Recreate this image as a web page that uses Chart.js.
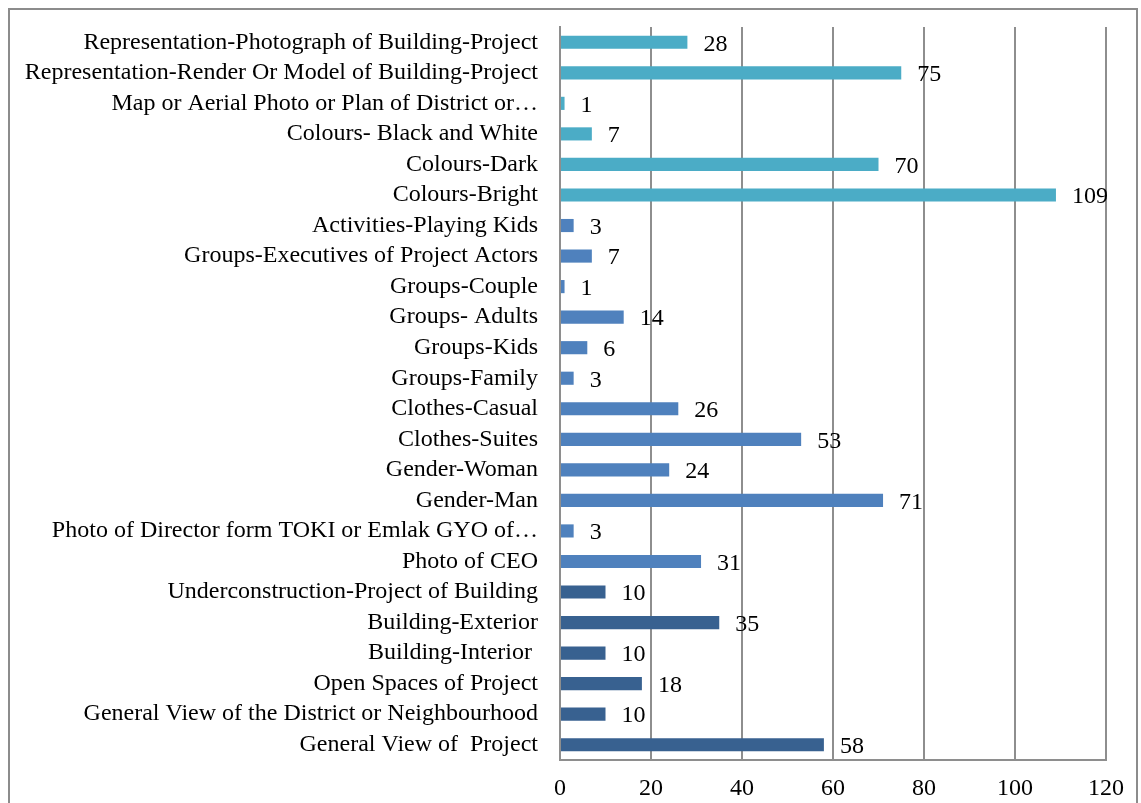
<!DOCTYPE html>
<html>
<head>
<meta charset="utf-8">
<script src="https://cdn.jsdelivr.net/npm/chart.js@4/dist/chart.umd.min.js"></script>
<style>
    html, body { margin: 0; padding: 0; background: #fff; }
    #wrap { position: relative; width: 1141px; height: 803px; overflow: hidden; }
    #frame { position: absolute; left: 8px; top: 8px; width: 1130px; height: 820px; border: 2px solid #8c8c8c; box-sizing: border-box; }
    canvas { position: absolute; left: 0; top: 0; }
</style>
</head>
<body>
<div id="wrap">
    <div id="frame"></div>
    <canvas id="chart" width="1141" height="803"></canvas>
</div>
<script>
// --- Data (top to bottom) ---
const categories = [
    'Representation-Photograph of Building-Project',
    'Representation-Render Or Model of Building-Project',
    'Map or Aerial Photo or Plan of District or…',
    'Colours- Black and White',
    'Colours-Dark',
    'Colours-Bright',
    'Activities-Playing Kids',
    'Groups-Executives of Project Actors',
    'Groups-Couple',
    'Groups- Adults',
    'Groups-Kids',
    'Groups-Family',
    'Clothes-Casual',
    'Clothes-Suites',
    'Gender-Woman',
    'Gender-Man',
    'Photo of Director form TOKI or Emlak GYO of…',
    'Photo of CEO',
    'Underconstruction-Project of Building',
    'Building-Exterior',
    'Building-Interior ',
    'Open Spaces of Project',
    'General View of the District or Neighbourhood',
    'General View of  Project'
];
const values = [28, 75, 1, 7, 70, 109, 3, 7, 1, 14, 6, 3, 26, 53, 24, 71, 3, 31, 10, 35, 10, 18, 10, 58];
const groups = [
    'representation', 'representation', 'representation', 'representation', 'representation', 'representation',
    'people', 'people', 'people', 'people', 'people', 'people', 'people', 'people', 'people', 'people', 'people', 'people',
    'building', 'building', 'building', 'building', 'building', 'building'
];
const xTicks = [0, 20, 40, 60, 80, 100, 120];

const groupColours = { representation: '#4BACC6', people: '#4F81BD', building: '#386190' };
const FONT = '"Liberation Serif", "Times New Roman", serif';
const GRID = '#8e8e8e';

// draws the value next to each bar
const valueLabels = {
    id: 'valueLabels',
    afterDatasetsDraw(chart) {
        const ctx = chart.ctx;
        const meta = chart.getDatasetMeta(0);
        ctx.save();
        ctx.font = '24px ' + FONT;
        ctx.fillStyle = '#000';
        ctx.textAlign = 'left';
        ctx.textBaseline = 'middle';
        meta.data.forEach((bar, i) => {
            ctx.fillText(String(values[i]), bar.x + 16, bar.y + 2);
        });
        ctx.restore();
    }
};

const noPad = s => { s.paddingTop = 0; s.paddingBottom = 0; s.paddingLeft = 0; s.paddingRight = 0; };

new Chart(document.getElementById('chart'), {
    type: 'bar',
    data: {
        labels: categories,
        datasets: [{
            data: values,
            backgroundColor: groups.map(g => groupColours[g]),
            barPercentage: 0.43,
            categoryPercentage: 1
        }]
    },
    options: {
        indexAxis: 'y',
        responsive: false,
        animation: false,
        layout: { padding: { top: 27, right: 35, bottom: 0, left: 0 } },
        plugins: { legend: { display: false }, tooltip: { enabled: false } },
        scales: {
            x: {
                min: 0,
                max: 120,
                afterBuildTicks: s => { s.ticks = xTicks.map(v => ({ value: v })); },
                afterFit: s => { s.height = 43; noPad(s); },
                grid: { color: GRID, lineWidth: 2, drawTicks: false },
                border: { display: true, color: GRID, width: 2 },
                ticks: { color: '#000', padding: 14, font: { family: FONT, size: 24 } }
            },
            y: {
                afterFit: s => { s.width = 560; noPad(s); },
                grid: { display: false, drawTicks: false },
                border: { display: true, color: GRID, width: 2 },
                ticks: { color: '#000', padding: 22, autoSkip: false, font: { family: FONT, size: 24 } }
            }
        }
    },
    plugins: [valueLabels]
});
</script>
</body>
</html>
